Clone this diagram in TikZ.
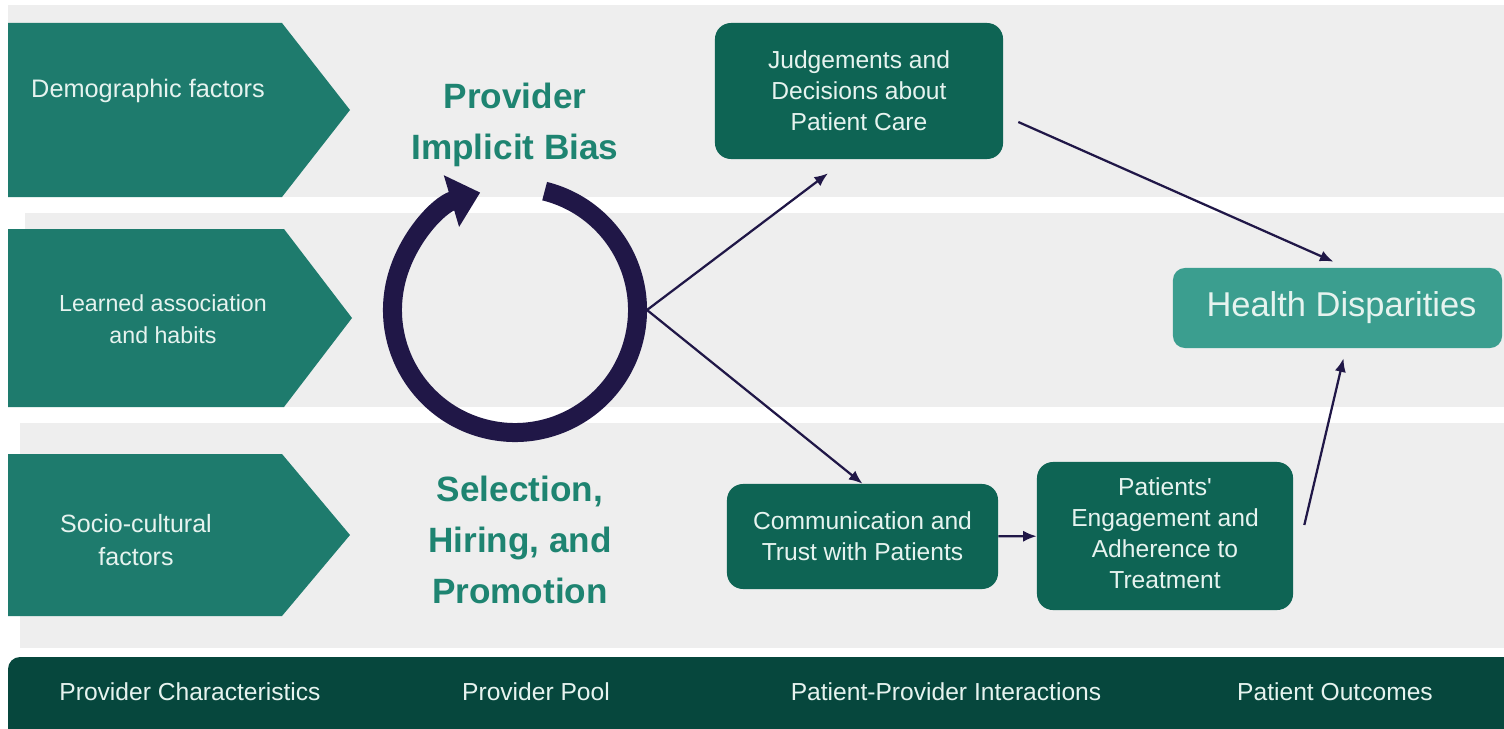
\documentclass[tikz,border=0pt]{standalone}
\usepackage{fontspec}
\setmainfont{Liberation Sans}
\usetikzlibrary{arrows.meta,calc}

\definecolor{bandgrey}{HTML}{EEEEEE}
\definecolor{chevgreen}{HTML}{1E7B6D}
\definecolor{boxgreen}{HTML}{0E6454}
\definecolor{lightteal}{HTML}{3B9E8F}
\definecolor{bargreen}{HTML}{06473D}
\definecolor{headteal}{HTML}{1E8471}
\definecolor{navy}{HTML}{201747}
\definecolor{palefont}{HTML}{E6F3EF}

\begin{document}
\begin{tikzpicture}[x=0.025cm,y=0.025cm,
  box/.style={fill=boxgreen, rounded corners=0.4cm, text=palefont, align=center, inner sep=0pt, font=\fontsize{17.5}{22}\selectfont},
  chevtext/.style={text=palefont, align=center, font=\fontsize{18}{23}\selectfont},
  heading/.style={text=headteal, align=center, font=\fontsize{25}{36}\selectfont\bfseries},
  barlabel/.style={text=palefont, font=\fontsize{17.5}{21}\selectfont},
  link/.style={draw=navy, line width=1.6pt, -{Latex[length=0.34cm,width=0.28cm]}}]
%Background
\useasboundingbox (0,0) rectangle (1504,-729);
\fill[white] (0,0) rectangle (1504,-729);
\fill[bandgrey] (8,-5) rectangle (1504,-197);
\fill[bandgrey] (25,-213) rectangle (1504,-407);
\fill[bandgrey] (20,-423) rectangle (1504,-648);
\fill[bargreen, rounded corners=0.3cm] (8,-657) rectangle (1540,-780);

%Chevrons
\fill[chevgreen] (8,-23) -- (282,-23) -- (350,-110) -- (282,-197) -- (8,-197) -- cycle;
\fill[chevgreen] (8,-229) -- (284,-229) -- (352,-318) -- (284,-407) -- (8,-407) -- cycle;
\fill[chevgreen] (8,-454) -- (282,-454) -- (350,-535) -- (282,-616) -- (8,-616) -- cycle;

%Nodes
\node[chevtext] (nodeDemo) at (148,-91) {Demographic factors};
\node[chevtext, font=\fontsize{16.5}{22.5}\selectfont] (nodeLearned) at (163,-319) {Learned association\\and habits};
\node[chevtext, font=\fontsize{17.8}{24}\selectfont] (nodeSocio) at (136,-540) {Socio-cultural\\factors};

\node[heading] (nodeBias) at (515,-125) {Provider\\Implicit Bias};
\node[heading] (nodeSelect) at (520,-540) {Selection,\\Hiring, and\\Promotion};

\node[box, minimum width=7.2cm, minimum height=3.4cm] (nodeJudge) at (859,-91) {Judgements and\\Decisions about\\Patient Care};
\node[box, minimum width=6.775cm, minimum height=2.625cm] (nodeComm) at (862.5,-536.5) {Communication and\\Trust with Patients};
\node[box, minimum width=6.4cm, minimum height=3.7cm] (nodePatients) at (1165,-536) {\raisebox{-0.2cm}{\begin{tabular}{@{}c@{}}Patients\textquotesingle\\Engagement and\\Adherence to\\Treatment\end{tabular}}};
\node[box, fill=lightteal, rounded corners=0.3cm, minimum width=8.225cm, minimum height=2cm, font=\fontsize{24.5}{28}\selectfont] (nodeHealth) at (1337.5,-308) {\hspace*{0.2cm}Health Disparities};

\node[barlabel] (nodeChar) at (190,-692) {Provider Characteristics};
\node[barlabel] (nodePool) at (536,-692) {Provider Pool};
\node[barlabel] (nodeInter) at (946,-692) {Patient-Provider Interactions};
\node[barlabel] (nodeOut) at (1335,-692) {Patient Outcomes};

%Cycle
\coordinate (loopC) at (515,-310);
\coordinate (loopR) at (647,-310);
\draw[navy, line width=0.475cm, -{Triangle[length=0.75cm,width=1.3cm]}] ([shift={(76:122.5)}]loopC) arc[start angle=76, end angle=-253.5, radius=122.5];

%Lines
\draw[link] (loopR) -- ($(nodeJudge.south)+(-31,-14)$);
\draw[link] (loopR) -- (nodeComm.north);
\draw[link] (nodeComm) -- (nodePatients);
\draw[link] ($(nodeJudge.east)+(15,-31)$) -- ($(nodeHealth.north)+(-4,6)$);
\draw[link] ($(nodePatients.east)+(11,11)$) -- ($(nodeHealth.south)+(6,-10)$);
\end{tikzpicture}
\end{document}
